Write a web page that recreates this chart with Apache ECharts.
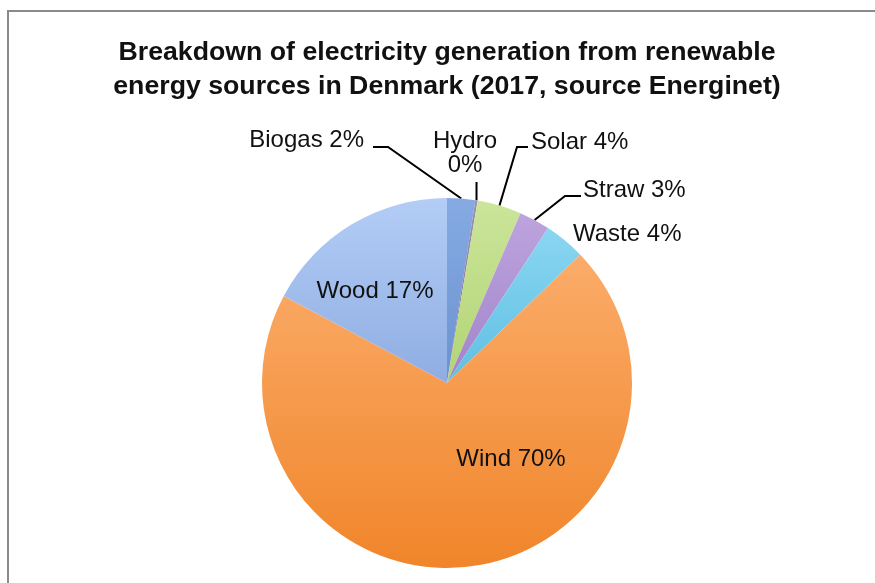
<!DOCTYPE html>
<html>
<head>
<meta charset="utf-8">
<title>Renewable electricity generation, Denmark 2017</title>
<script src="https://cdn.jsdelivr.net/npm/echarts@6/dist/echarts.min.js"></script>
<style>
  html, body { margin: 0; padding: 0; background: #ffffff; }
  #chart { width: 875px; height: 583px; }
</style>
</head>
<body>
<div id="chart"></div>
<script>
// Share of renewable electricity generation by source, 2017 (percent)
const categories = ['Biogas', 'Hydro', 'Solar', 'Straw', 'Waste', 'Wind', 'Wood'];
const shares = [2.45, 0.2, 3.85, 2.7, 3.6, 70.0, 17.2];

// Fill colours per source: [top, bottom] of a vertical gradient
const sliceColors = [
  ['#86abe3', '#6b91d0'],
  ['#9c8fb0', '#7d7194'],
  ['#cbe59a', '#b2d474'],
  ['#bda4de', '#a184c9'],
  ['#8ad6f2', '#5fbfe2'],
  ['#fbac6a', '#f0852a'],
  ['#b3cdf6', '#8fade2']
];

// Where each label sits and how its leader line bends
const labelPlacement = {
  Biogas: { x: 364, y: 140, align: 'right', line: [[388, 147], [373, 147]] },
  Hydro:  { x: 465, y: 153, align: 'center', line: 'vertical', lineTop: 182 },
  Solar:  { x: 531, y: 142, align: 'left', line: [[517, 147], [528, 147]] },
  Straw:  { x: 583, y: 190, align: 'left', line: [[565, 196], [581, 196]] },
  Waste:  { x: 573, y: 234, align: 'left' },
  Wind:   { x: 511, y: 459, align: 'center' },
  Wood:   { x: 375, y: 291, align: 'center' }
};

const total = shares.reduce((a, b) => a + b, 0);
const pct = v => Math.round(v / total * 100);

const seriesData = categories.map((name, i) => ({
  name: name,
  value: shares[i],
  itemStyle: {
    color: new echarts.graphic.LinearGradient(0, 0, 0, 1, [
      { offset: 0, color: sliceColors[i][0] },
      { offset: 1, color: sliceColors[i][1] }
    ])
  },
  labelLine: { show: !!labelPlacement[name].line }
}));

const chart = echarts.init(document.getElementById('chart'), null, { renderer: 'canvas' });

chart.setOption({
  backgroundColor: '#ffffff',
  animation: false,
  title: {
    text: 'Breakdown of electricity generation from renewable\nenergy sources in Denmark (2017, source Energinet)',
    left: 447,
    top: 36,
    textAlign: 'center',
    padding: 0,
    textStyle: {
      fontFamily: '"Liberation Sans", Arial, sans-serif',
      fontWeight: 'bold',
      fontSize: 26.7,
      lineHeight: 34,
      color: '#111111'
    }
  },
  graphic: [
    { type: 'line', shape: { x1: 8, y1: 11, x2: 875, y2: 11 }, style: { stroke: '#8a8a8a', lineWidth: 2 } },
    { type: 'line', shape: { x1: 8, y1: 10, x2: 8, y2: 583 }, style: { stroke: '#8a8a8a', lineWidth: 2 } }
  ],
  series: [{
    type: 'pie',
    center: [447, 383],
    radius: [0, 185],
    startAngle: 90,
    clockwise: true,
    avoidLabelOverlap: false,
    silent: true,
    data: seriesData,
    itemStyle: { borderWidth: 0 },
    label: {
      show: true,
      position: 'outside',
      fontFamily: '"Liberation Sans", Arial, sans-serif',
      fontSize: 24,
      lineHeight: 24,
      color: '#111111',
      formatter: p => p.name === 'Hydro'
        ? p.name + '\n' + pct(p.value) + '%'
        : p.name + ' ' + pct(p.value) + '%'
    },
    labelLine: {
      show: true,
      lineStyle: { color: '#000000', width: 2 }
    },
    labelLayout: function (params) {
      const name = categories[params.dataIndex];
      const place = labelPlacement[name];
      const out = { x: place.x, y: place.y, align: place.align, verticalAlign: 'middle' };
      const pts = params.labelLinePoints;
      if (pts && pts.length && place.line) {
        const anchor = pts[0];
        if (place.line === 'vertical') {
          out.labelLinePoints = [anchor, [anchor[0], place.lineTop], [anchor[0], place.lineTop]];
        } else {
          out.labelLinePoints = [anchor, place.line[0], place.line[1]];
        }
      }
      return out;
    }
  }]
});
</script>
</body>
</html>
